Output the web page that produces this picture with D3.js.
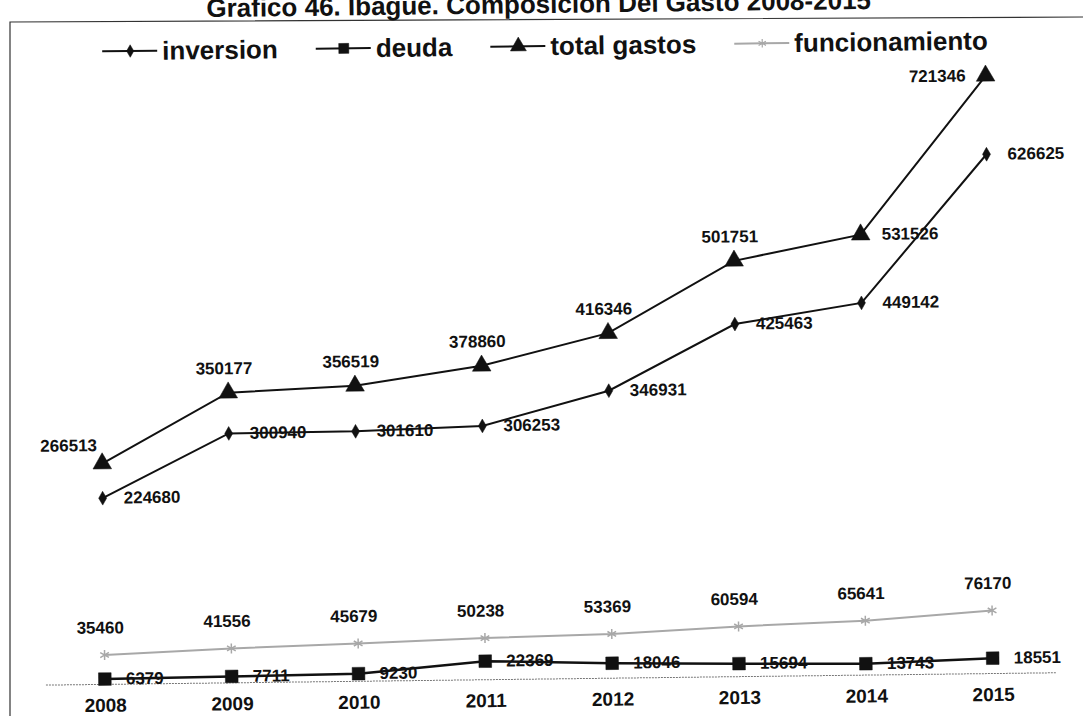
<!DOCTYPE html>
<html>
<head>
<meta charset="utf-8">
<script src="https://cdn.jsdelivr.net/npm/d3@7"></script>
<style>
  body { margin: 0; background: #fff; }
  svg text { font-family: "Liberation Sans", Arial, sans-serif; font-weight: bold; fill: #111; }
</style>
</head>
<body>
<svg id="chart" width="1083" height="716"></svg>
<script>
const years = ["2008", "2009", "2010", "2011", "2012", "2013", "2014", "2015"];
const inversion = [224680, 300940, 301610, 306253, 346931, 425463, 449142, 626625];
const deuda = [6379, 7711, 9230, 22369, 18046, 15694, 13743, 18551];
const totalGastos = [266513, 350177, 356519, 378860, 416346, 501751, 531526, 721346];
const funcionamiento = [35460, 41556, 45679, 50238, 53369, 60594, 65641, 76170];
// where each data label sits, like Excel's label position option
const totalLabelPos = ["aboveLeft", "above", "above", "above", "above", "above", "right", "left"];
const title = "Grafico 46. Ibague. Composicion Del Gasto 2008-2015";

const series = [
  { name: "funcionamiento", values: funcionamiento, color: "#a8a8a8", width: 2, symbol: d3.symbolAsterisk, size: 70, legendSize: 50, stroked: true, pos: years.map(() => "above") },
  { name: "deuda", values: deuda, color: "#111", width: 2.5, symbol: d3.symbolSquare, size: 160, legendSize: 100, pos: years.map(() => "right") },
  { name: "inversion", values: inversion, color: "#111", width: 2, symbol: d3.symbolDiamond, size: 55, legendSize: 45, pos: years.map(() => "right") },
  { name: "total gastos", values: totalGastos, color: "#111", width: 2, symbol: d3.symbolTriangle, size: 150, legendSize: 110, pos: totalLabelPos },
];
const legendOrder = ["inversion", "deuda", "total gastos", "funcionamiento"];

const svg = d3.select("#chart");

// scanned page frame
svg.append("path")
  .attr("d", "M10,716L10,22L1083,17")
  .attr("fill", "none")
  .attr("stroke", "#333")
  .attr("stroke-width", 1.2);

// the scan is slightly tilted
const g = svg.append("g").attr("transform", "rotate(-0.7,544,360)");

g.append("text")
  .attr("x", 543)
  .attr("y", 13)
  .attr("text-anchor", "middle")
  .style("font-size", "26px")
  .text(title);

const x = d3.scalePoint().domain(years).range([101, 989]);
const y = d3.scaleLinear().domain([0, 800000]).range([679, 16]);

// category axis
g.append("line")
  .attr("x1", 42).attr("x2", 1052)
  .attr("y1", y(0)).attr("y2", y(0))
  .attr("stroke", "#777")
  .attr("stroke-dasharray", "2,1")
  .attr("stroke-width", 1);

const xAxis = g.append("g")
  .attr("transform", `translate(0,${y(0)})`)
  .call(d3.axisBottom(x).tickSize(0).tickPadding(14));
xAxis.select(".domain").remove();
xAxis.selectAll("text").style("font-size", "19px").style("font-family", null);

const line = d3.line()
  .x((d, i) => x(years[i]))
  .y((d) => y(d));

series.forEach((s) => {
  g.append("path")
    .attr("d", line(s.values))
    .attr("fill", "none")
    .attr("stroke", s.color)
    .attr("stroke-width", s.width);

  g.selectAll(null)
    .data(s.values)
    .enter()
    .append("path")
    .attr("transform", (d, i) => `translate(${x(years[i])},${y(d)})`)
    .attr("d", d3.symbol().type(s.symbol).size(s.size))
    .attr("fill", s.stroked ? "none" : s.color)
    .attr("stroke", s.color)
    .attr("stroke-width", s.stroked ? 1.5 : 0.5);
});

// data labels on top of the lines
series.forEach((s) => {
  g.selectAll(null)
    .data(s.values)
    .enter()
    .append("text")
    .style("font-size", "17px")
    .attr("dominant-baseline", "central")
    .attr("text-anchor", (d, i) => {
      const p = s.pos[i];
      return p === "right" ? "start" : p === "above" ? "middle" : "end";
    })
    .attr("x", (d, i) => {
      const p = s.pos[i];
      const px = x(years[i]);
      if (p === "right") return px + 21;
      if (p === "left") return px - 20;
      if (p === "aboveLeft") return px - 5;
      return px - 4;
    })
    .attr("y", (d, i) => {
      const p = s.pos[i];
      const py = y(d);
      if (p === "above") return py - (s.name === "funcionamiento" ? 27 : 24);
      if (p === "aboveLeft") return py - 18;
      return py;
    })
    .text((d) => d);
});

// legend
const legend = g.append("g").attr("transform", "translate(106,55)");
let lx = 0;
legendOrder.forEach((name) => {
  const s = series.find((d) => d.name === name);
  const item = legend.append("g").attr("transform", `translate(${lx},0)`);
  item.append("line")
    .attr("x1", 0).attr("x2", 55)
    .attr("y1", -9).attr("y2", -9)
    .attr("stroke", s.color)
    .attr("stroke-width", 2);
  item.append("path")
    .attr("transform", "translate(28,-9)")
    .attr("d", d3.symbol().type(s.symbol).size(s.legendSize))
    .attr("fill", s.stroked ? "none" : s.color)
    .attr("stroke", s.color)
    .attr("stroke-width", s.stroked ? 1.2 : 0.5);
  const t = item.append("text")
    .attr("x", 60)
    .style("font-size", "26px")
    .text(name);
  lx += 60 + t.node().getComputedTextLength() + 38;
});
</script>
</body>
</html>
